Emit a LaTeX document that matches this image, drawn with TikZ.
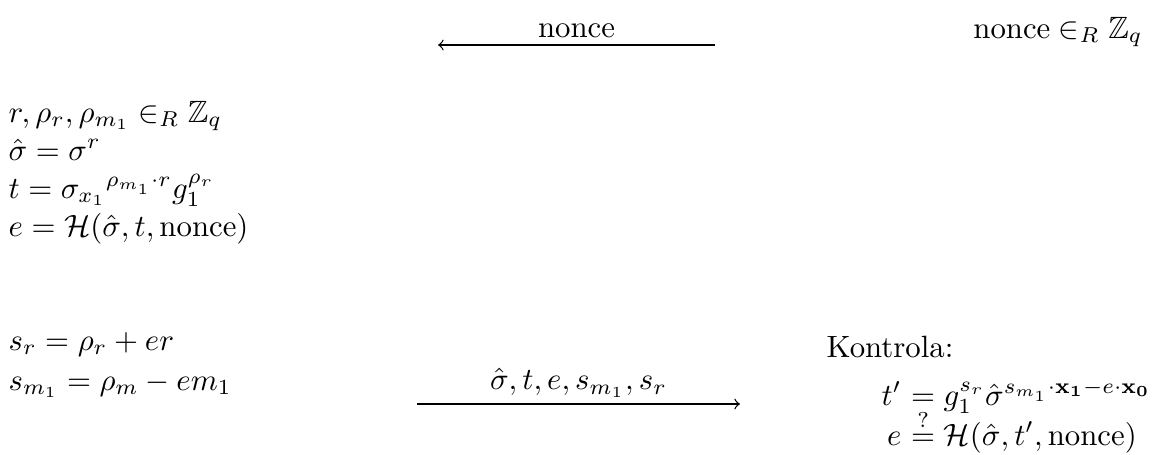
\documentclass[tikz,border=0pt]{standalone}
\usepackage{amsmath,amssymb}
\begin{document}
\begin{tikzpicture}[x=0.3247pt,y=-0.3247pt,
  txt/.style={inner sep=0pt,anchor=base west},
  txtr/.style={inner sep=0pt,anchor=base east},
  msg/.style={->,line width=0.4pt},
  lbl/.style={midway,above,inner sep=2pt}]
\useasboundingbox (0,0) rectangle (1153,455);
% right party, top
\node[txtr] (nr) at (1143,38) {$\text{nonce} \in_R \mathbb{Z}_q$};
% nonce message
\coordinate (n1) at (715,45);
\coordinate (n2) at (438,45);
\draw[msg] (n1) -- (n2) node[lbl] (nl) {nonce};
% left party
\node[txt] (l1) at (8,122) {$r, \rho_r, \rho_{m_1} \in_R \mathbb{Z}_q$};
\node[txt] (l2) at (8,160) {$\hat{\sigma} = \sigma^r$};
\node[txt] (l3) at (8,198) {$t = {\sigma_{x_1}}^{\rho_{m_1}\cdot r} g_1^{\rho_r}$};
\node[txt] (l4) at (8,236) {$e = \mathcal{H}(\hat{\sigma}, t, \text{nonce})$};
\node[txt] (l5) at (8,350) {$s_r = \rho_r + er$};
\node[txt] (l6) at (8,390) {$s_{m_1} = \rho_m - em_1$};
% response message
\coordinate (m1) at (417,404);
\coordinate (m2) at (740,404);
\draw[msg] (m1) -- (m2) node[lbl] (ml) {$\hat{\sigma}, t, e, s_{m_1}, s_r$};
% verification
\node[txt] (k) at (826,357) {Kontrola:};
\node[txtr] (k1a) at (902,405) {$t'$};
\node[txt] (k1b) at (902,405) {${}= g_1^{s_r} \hat{\sigma}^{s_{m_1}\cdot \mathbf{x_1} - e\cdot\mathbf{x_0}}$};
\node[txtr] (k2a) at (902,445) {$e$};
\node[txt] (k2b) at (902,445) {${}\stackrel{?}{=} \mathcal{H}(\hat{\sigma}, t', \text{nonce})$};
\end{tikzpicture}
\end{document}
